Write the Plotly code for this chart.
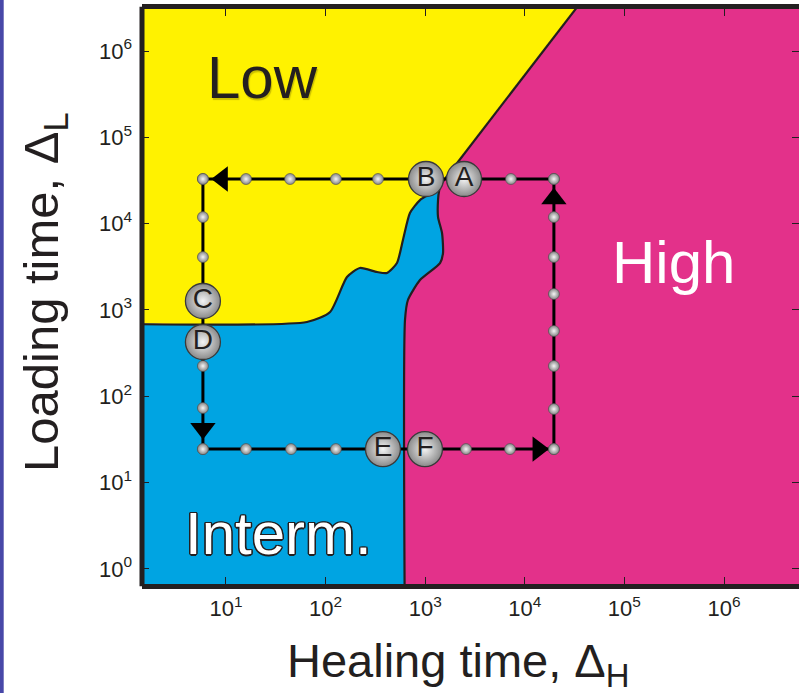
import math
import plotly.graph_objects as go

# ---------------- data ----------------
# axis tick labels
x_tick_vals = [1e1, 1e2, 1e3, 1e4, 1e5, 1e6]
x_tick_text = ["10<sup>1</sup>", "10<sup>2</sup>", "10<sup>3</sup>", "10<sup>4</sup>", "10<sup>5</sup>", "10<sup>6</sup>"]
y_tick_vals = [1e0, 1e1, 1e2, 1e3, 1e4, 1e5, 1e6]
y_tick_text = ["10<sup>0</sup>", "10<sup>1</sup>", "10<sup>2</sup>", "10<sup>3</sup>", "10<sup>4</sup>", "10<sup>5</sup>", "10<sup>6</sup>"]

# axis ranges (log10)
x_range_log = [0.157, 6.753]
y_range_log = [-0.176, 6.487]

# phase boundaries (healing time, loading time)
low_interm_x = [0.05, 65, 111, 164, 221, 328, 413, 521, 598, 703, 887, 1250, 1442]
low_interm_y = [725, 725, 946, 2404, 3062, 2748, 2679, 3500, 6457, 13270, 18750, 24000, 28800]
interm_high_x = [627, 627, 671, 887, 1409, 1510, 1476, 1346, 1346, 1380, 1442]
interm_high_y = [0.1, 764, 1303, 2218, 3491, 4560, 7780, 11910, 18750, 24000, 28800]
# straight Low/High border: from the triple point up past the top edge
low_high_x = [1442, 9.25e4]
low_high_y = [28800, 1.48e7]

# cycle path (healing time, loading time)
path_h_left = 5.87
path_h_right = 19600
path_l_top = 32900
path_l_bottom = 24.4

top_dots_x = [5.87, 15.9, 44.0, 127, 336, 7260, 19600]
bottom_dots_x = [5.87, 15.9, 45.0, 127, 2570, 7100, 19600]
left_dots_y = [32900, 11900, 4100, 224, 73, 24.4]
right_dots_y = [32900, 11900, 4100, 1530, 570, 224, 71, 24.4]

labels = ["A", "B", "C", "D", "E", "F"]
labels_x = [2455, 1019, 5.87, 5.87, 377, 995]
labels_y = [32900, 32900, 1268, 425, 24.4, 24.4]

# region names
region_names = ["Low", "High", "Interm."]
region_x = [23, 3.08e5, 34]
region_y = [4.87e5, 3590, 2.6]

# ---------------- styling ----------------
YELLOW = "#fff200"
BLUE = "#00a4e2"
PINK = "#e3318a"
DARK = "#231f20"
FONT = "Liberation Sans, Arial, sans-serif"


def geo(a, b, f):
    return 10 ** (math.log10(a) + f * (math.log10(b) - math.log10(a)))


# points along the straight Low/High border (so the spline keeps it straight)
n_seg = 8
lh_x = [geo(low_high_x[0], low_high_x[1], k / n_seg) for k in range(n_seg + 1)]
lh_y = [geo(low_high_y[0], low_high_y[1], k / n_seg) for k in range(n_seg + 1)]

fig = go.Figure()

XL, XH, YL, YH = 1e-3, 1e9, 1e-3, 1e9

# yellow (Low) polygon
yx = [XL] + low_interm_x + lh_x[1:] + [XL]
yy = [low_interm_y[0]] + low_interm_y + lh_y[1:] + [YH]
fig.add_trace(go.Scatter(x=yx, y=yy, fill="toself", fillcolor=YELLOW,
                         line=dict(width=0, shape="spline", smoothing=0.6), mode="lines",
                         hoverinfo="skip", showlegend=False))
# blue (Interm.) polygon
bx = [XL, XL] + low_interm_x + interm_high_x[::-1]
by = [YL, low_interm_y[0]] + low_interm_y + interm_high_y[::-1]
fig.add_trace(go.Scatter(x=bx, y=by, fill="toself", fillcolor=BLUE,
                         line=dict(width=0, shape="spline", smoothing=0.6), mode="lines",
                         hoverinfo="skip", showlegend=False))

# boundary lines
for bxs, bys in [(low_interm_x, low_interm_y), (interm_high_x, interm_high_y)]:
    fig.add_trace(go.Scatter(x=bxs, y=bys, mode="lines",
                             line=dict(color=DARK, width=2.2, shape="spline", smoothing=0.6),
                             hoverinfo="skip", showlegend=False))
fig.add_trace(go.Scatter(x=low_high_x, y=low_high_y, mode="lines",
                         line=dict(color=DARK, width=2.2),
                         hoverinfo="skip", showlegend=False))

# cycle path
fig.add_trace(go.Scatter(
    x=[path_h_right, path_h_left, path_h_left, path_h_right, path_h_right],
    y=[path_l_top, path_l_top, path_l_bottom, path_l_bottom, path_l_top],
    mode="lines", line=dict(color="black", width=3),
    hoverinfo="skip", showlegend=False))

# arrows (placed along the path between the corner and the next dot)
arrow_x = [geo(top_dots_x[0], top_dots_x[1], 0.45), path_h_left,
           geo(bottom_dots_x[-1], bottom_dots_x[-2], 0.36), path_h_right]
arrow_y = [path_l_top, geo(left_dots_y[-1], left_dots_y[-2], 0.50),
           path_l_bottom, geo(right_dots_y[0], right_dots_y[1], 0.52)]
arrow_sym = ["triangle-left", "triangle-down", "triangle-right", "triangle-up"]
fig.add_trace(go.Scatter(x=arrow_x, y=arrow_y, mode="markers",
                         marker=dict(symbol=arrow_sym, size=22, color="black",
                                     line=dict(width=0)),
                         hoverinfo="skip", showlegend=False))

# small dots
dots_x = top_dots_x + bottom_dots_x + [path_h_left] * len(left_dots_y) + [path_h_right] * len(right_dots_y)
dots_y = [path_l_top] * len(top_dots_x) + [path_l_bottom] * len(bottom_dots_x) + left_dots_y + right_dots_y
fig.add_trace(go.Scatter(x=dots_x, y=dots_y, mode="markers",
                         marker=dict(size=11, color="#858585",
                                     gradient=dict(type="radial", color="#f6f6f6"),
                                     line=dict(width=0.6, color="#4a4a4a")),
                         hoverinfo="skip", showlegend=False))

# labelled points
fig.add_trace(go.Scatter(x=labels_x, y=labels_y, mode="markers+text",
                         text=labels, textposition="middle center",
                         textfont=dict(family=FONT, size=28, color=DARK),
                         marker=dict(size=35, color="#8a8a8a",
                                     gradient=dict(type="radial", color="#f4f4f4"),
                                     line=dict(width=1.3, color="#3a3a3a")),
                         hoverinfo="skip", showlegend=False))

# region names
region_colors = [DARK, "white", "white"]
o = "#231f20"
outline = ", ".join(f"{dx}px {dy}px 0 {o}" for dx, dy in
                    [(1.5, 0), (-1.5, 0), (0, 1.5), (0, -1.5), (1.1, 1.1), (-1.1, -1.1), (1.1, -1.1), (-1.1, 1.1)])
region_shadow = ["1px 2px 1px rgba(140,130,0,0.45)", "none", outline]
for i, name in enumerate(region_names):
    fig.add_annotation(x=math.log10(region_x[i]), y=math.log10(region_y[i]),
                       xref="x", yref="y", text=name, showarrow=False,
                       xanchor="center", yanchor="middle",
                       font=dict(family=FONT, size=60, color=region_colors[i],
                                 shadow=region_shadow[i]))

axis_common = dict(type="log", ticks="inside", ticklen=7, tickwidth=1,
                   tickcolor=DARK, showgrid=False, zeroline=False,
                   mirror="ticks",
                   tickfont=dict(family=FONT, size=22, color=DARK))

fig.update_xaxes(range=x_range_log, tickvals=x_tick_vals, ticktext=x_tick_text,
                 showline=True, linewidth=5, linecolor=DARK,
                 ticklabelstandoff=1, **axis_common)
fig.update_yaxes(range=y_range_log, tickvals=y_tick_vals, ticktext=y_tick_text,
                 showline=False, ticklabelstandoff=9, **axis_common)

# frame (left edge) and left strip
fig.add_shape(type="line", xref="paper", yref="paper", x0=0, x1=0, y0=-0.004, y1=1.004,
              line=dict(color=DARK, width=5), layer="above")
fig.add_shape(type="rect", xref="paper", yref="paper", x0=-0.3, x1=(3.7 - 142) / 657,
              y0=-1, y1=2, line=dict(width=0), fillcolor="#4848a8", layer="above")

# axis titles
fig.add_annotation(xref="paper", yref="paper", x=(458 - 142) / 657, y=-(664 - 584) / 575,
                   text="Healing time, Δ<sub>H</sub>", showarrow=False,
                   xanchor="center", yanchor="middle",
                   font=dict(family=FONT, size=47, color=DARK))
fig.add_annotation(xref="paper", yref="paper", x=-(142 - 44) / 657, y=(584 - 292) / 575,
                   text="Loading time, Δ<sub>L</sub>", showarrow=False, textangle=-90,
                   xanchor="center", yanchor="middle",
                   font=dict(family=FONT, size=49, color=DARK))

fig.update_layout(width=799, height=693, margin=dict(l=142, r=0, t=9, b=109),
                  paper_bgcolor="white", plot_bgcolor=PINK, showlegend=False)

fig.write_html("out.html", config={"displayModeBar": False},
               post_script="document.body.style.margin='0';document.body.style.overflow='hidden';")
